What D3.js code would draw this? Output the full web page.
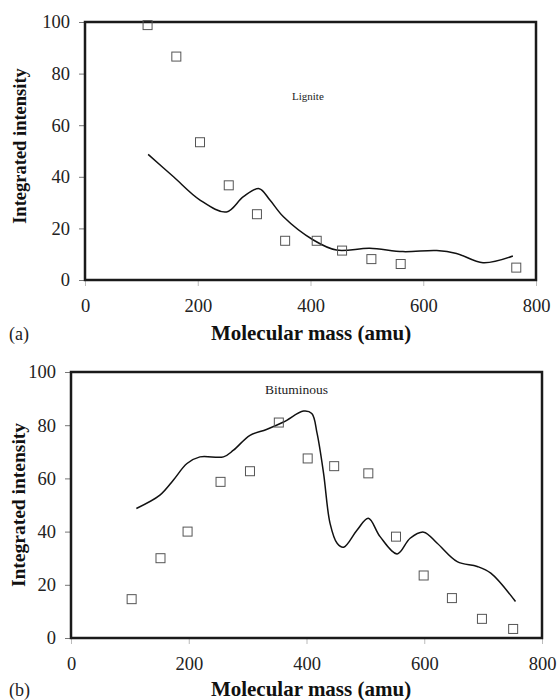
<!DOCTYPE html>
<html>
<head>
<meta charset="utf-8">
<script src="https://cdn.jsdelivr.net/npm/d3@7"></script>
<style>
  body { margin: 0; background: #fff; }
  svg text { font-family: "Liberation Serif", "Times New Roman", "DejaVu Serif", serif; }
  .tick text { font-size: 18.5px; fill: #222; }
  .axis-title { font-weight: bold; fill: #111; }
</style>
</head>
<body>
<script>
// tick labels
var xTicks = [0, 200, 400, 600, 800];
var yTicks = [0, 20, 40, 60, 80, 100];

// (a) lignite - measured points and fitted curve
var ligniteMass = [111, 162, 204, 255, 305, 355, 411, 456, 508, 560, 765];
var ligniteInt  = [98.8, 86.6, 53.4, 36.7, 25.5, 15.2, 15.2, 11.4, 8.1, 6.2, 4.8];
var ligniteCurveMass = [112, 157, 204, 251, 281, 309, 328, 352, 405, 446, 505, 564, 624, 659, 706, 759];
var ligniteCurveInt  = [48.7, 40, 31, 26.4, 32.3, 35.4, 31, 24.5, 15.5, 11.6, 12.3, 11, 11.4, 10.3, 6.7, 9.3];

// (b) bituminous
var bitMass = [103, 152, 198, 254, 304, 353, 402, 447, 505, 552, 599, 647, 698, 751];
var bitInt  = [14.6, 30, 40, 58.7, 62.7, 81, 67.5, 64.6, 61.9, 38.1, 23.5, 15, 7.2, 3.4];
var bitCurveMass = [111, 151, 174, 197, 219, 259, 276, 304, 332, 361, 395, 409, 418, 429, 440, 452, 463, 486, 505, 525, 554, 576, 599, 622, 656, 690, 713, 755];
var bitCurveInt  = [48.7, 53.7, 59.4, 65.6, 68.1, 68.1, 70.6, 76.2, 78.4, 81.2, 85.3, 84.4, 76.9, 61.9, 43.1, 35.6, 34.1, 40.6, 45, 38.1, 31.6, 37.5, 39.8, 35.6, 28.7, 26.9, 24.4, 13.7];

var svg = d3.select("body").append("svg")
    .attr("width", 557)
    .attr("height", 700);

function drawPanel(box, mass, inten, cMass, cInt, label, labelPos, tag, titleY, yTitle) {
  var x = d3.scaleLinear().domain([0, 800]).range([box.left, box.right]);
  var y = d3.scaleLinear().domain([0, 100]).range([box.bottom, box.top]);

  var xAxis = svg.append("g")
      .attr("transform", "translate(0," + box.bottom + ")")
      .call(d3.axisBottom(x).tickValues(xTicks).tickSize(6).tickPadding(13));
  xAxis.attr("font-family", null).attr("font-size", null);
  xAxis.select(".domain").remove();
  xAxis.selectAll(".tick line").attr("stroke", "#bbb");

  var yAxis = svg.append("g")
      .attr("transform", "translate(" + box.left + ",0)")
      .call(d3.axisLeft(y).tickValues(yTicks).tickSize(6).tickPadding(9));
  yAxis.attr("font-family", null).attr("font-size", null);
  yAxis.select(".domain").remove();
  yAxis.selectAll(".tick line").attr("stroke", "#777");

  // frame
  svg.append("rect")
      .attr("x", box.left).attr("y", box.top)
      .attr("width", box.right - box.left).attr("height", box.bottom - box.top)
      .attr("fill", "none").attr("stroke", "#1a1a1a").attr("stroke-width", 2.5);

  var line = d3.line()
      .x(function(d, i) { return x(cMass[i]); })
      .y(function(d, i) { return y(cInt[i]); })
      .curve(d3.curveCatmullRom.alpha(0.5));

  svg.append("path")
      .datum(cMass)
      .attr("d", line)
      .attr("fill", "none")
      .attr("stroke", "#111")
      .attr("stroke-width", 1.5);

  svg.append("g").selectAll("rect")
      .data(mass)
      .enter().append("rect")
      .attr("x", function(d) { return x(d) - 4.5; })
      .attr("y", function(d, i) { return y(inten[i]) - 4.5; })
      .attr("width", 9).attr("height", 9)
      .attr("fill", "none")
      .attr("stroke", "#555")
      .attr("stroke-width", 1);

  svg.append("text")
      .attr("x", labelPos[0]).attr("y", labelPos[1])
      .attr("font-size", labelPos[2] + "px")
      .attr("fill", "#222")
      .text(label);

  svg.append("text")
      .attr("class", "axis-title")
      .attr("x", 311).attr("y", titleY)
      .attr("text-anchor", "middle")
      .attr("font-size", "21px")
      .text("Molecular mass (amu)");

  svg.append("text")
      .attr("x", 9).attr("y", titleY)
      .attr("font-size", "18px")
      .attr("fill", "#222")
      .text(tag);

  svg.append("text")
      .attr("class", "axis-title")
      .attr("transform", "translate(" + yTitle[0] + "," + yTitle[1] + ") rotate(-90)")
      .attr("text-anchor", "middle")
      .attr("font-size", yTitle[2] + "px")
      .text("Integrated intensity");
}

drawPanel({left: 85, right: 536, top: 22, bottom: 280},
  ligniteMass, ligniteInt, ligniteCurveMass, ligniteCurveInt,
  "Lignite", [292, 100, 11], "(a)", 340, [26, 146, 18.5]);

drawPanel({left: 71, right: 542, top: 372, bottom: 638},
  bitMass, bitInt, bitCurveMass, bitCurveInt,
  "Bituminous", [265, 394, 13.5], "(b)", 696, [25, 505, 19.5]);
</script>
</body>
</html>
